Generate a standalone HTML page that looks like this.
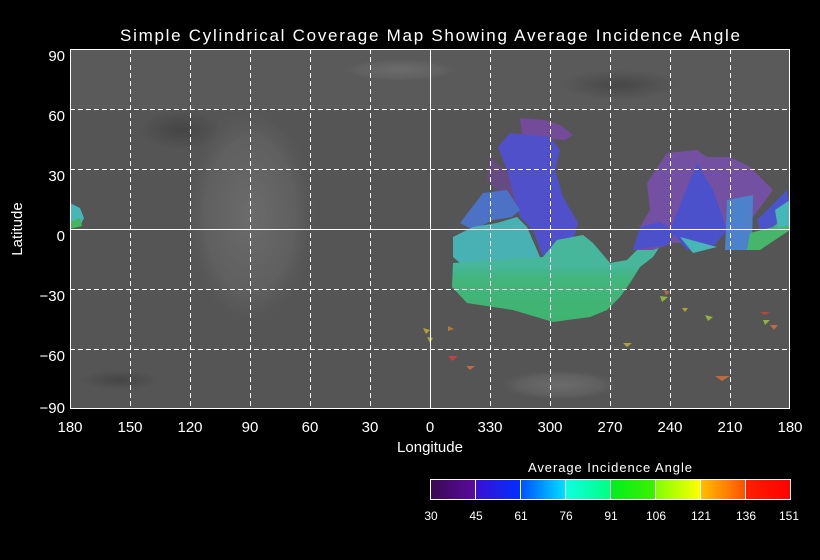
<!DOCTYPE html>
<html><head><meta charset="utf-8"><style>
html,body{margin:0;padding:0;background:#000;}
svg{display:block;}
text{font-family:"Liberation Sans",sans-serif;fill:#fff;}
</style></head><body>
<svg width="820" height="560" viewBox="0 0 820 560" xmlns="http://www.w3.org/2000/svg">
<defs>
<radialGradient id="lb" cx="0.5" cy="0.5" r="0.5"><stop offset="0" stop-color="#6c6c6c"/><stop offset="0.7" stop-color="#646464" stop-opacity="0.7"/><stop offset="1" stop-color="#5a5a5a" stop-opacity="0"/></radialGradient>
<radialGradient id="dk" cx="0.5" cy="0.5" r="0.5"><stop offset="0" stop-color="#3a3a3a" stop-opacity="0.6"/><stop offset="1" stop-color="#3a3a3a" stop-opacity="0"/></radialGradient>
<linearGradient id="gt" x1="0" y1="0" x2="0" y2="1"><stop offset="0" stop-color="#45c9a8"/><stop offset="0.35" stop-color="#45c9a8"/><stop offset="0.5" stop-color="#3fc783"/><stop offset="1" stop-color="#3dc474"/></linearGradient>
<linearGradient id="cb" x1="0" y1="0" x2="1" y2="0">
<stop offset="0" stop-color="#3a0a50"/><stop offset="0.125" stop-color="#5a0aa0"/><stop offset="0.125" stop-color="#3a10d0"/><stop offset="0.25" stop-color="#0030ff"/><stop offset="0.25" stop-color="#0050ff"/><stop offset="0.375" stop-color="#00e0ff"/><stop offset="0.375" stop-color="#10ffe0"/><stop offset="0.5" stop-color="#00ff80"/><stop offset="0.5" stop-color="#00ee20"/><stop offset="0.625" stop-color="#40f000"/><stop offset="0.625" stop-color="#80ff00"/><stop offset="0.75" stop-color="#ffff00"/><stop offset="0.75" stop-color="#ffc000"/><stop offset="0.875" stop-color="#ff5000"/><stop offset="0.875" stop-color="#ff2000"/><stop offset="1" stop-color="#ff0000"/></linearGradient>
</defs>
<rect x="70" y="49" width="720" height="360" fill="#555"/>
<rect x="70" y="49" width="720" height="60" fill="#5a5a5a"/>
<ellipse cx="250" cy="215" rx="65" ry="110" fill="url(#lb)"/>
<ellipse cx="400" cy="70" rx="60" ry="12" fill="url(#lb)"/>
<ellipse cx="620" cy="85" rx="60" ry="15" fill="url(#dk)"/>
<ellipse cx="180" cy="130" rx="40" ry="20" fill="url(#dk)"/>
<ellipse cx="560" cy="385" rx="60" ry="15" fill="url(#lb)"/>
<ellipse cx="120" cy="380" rx="40" ry="10" fill="url(#dk)"/>
<g opacity="0.85">
<polygon points="520,118 545,120 560,125 573,135 565,140 540,138 522,134" fill="#7a4aa8"/>
<polygon points="490,157 508,173 520,203 510,203 487,180" fill="#6a4a8a"/>
<polygon points="498,147 510,133 550,137 560,150 555,170 563,197 578,223 573,240 553,247 543,257 533,230 520,217 513,193 508,173" fill="#5050e0"/>
<polygon points="460,223 483,193 507,190 520,210 512,217 493,220 473,230" fill="#4a78d8"/>
<polygon points="453,237 473,227 497,223 517,217 527,227 540,257 520,263 460,263 453,257" fill="#45c2c4"/>
<polygon points="453,263 543,257 557,240 583,235 593,243 610,263 627,260 640,247 662,243 653,257 640,267 630,283 620,297 607,310 590,317 553,322 513,310 467,303 452,287" fill="url(#gt)"/>
<polygon points="647,183 667,153 697,150 707,157 730,157 750,167 773,190 753,217 740,210 727,230 707,243 673,243 653,250 633,250 640,227 650,210" fill="#7a50b0"/>
<polygon points="670,230 697,163 713,190 727,230 713,247 687,250" fill="#4a50e0"/>
<polygon points="633,250 640,227 660,222 675,232 668,245" fill="#4a50e0"/>
<polygon points="727,200 753,195 752,250 725,250" fill="#4a8ae0"/>
<polygon points="757,220 787,190 790,207 773,230 760,230" fill="#4a55e0"/>
<polygon points="680,237 717,247 693,253" fill="#45c8c8"/>
<polygon points="750,233 773,227 790,212 790,230 760,250 747,250" fill="#44c870"/>
<polygon points="775,210 790,200 790,225 778,228" fill="#45c8c8"/>
<polygon points="70,203 80,208 84,218 80,226 70,229" fill="#45c8c8"/>
<polygon points="70,222 80,218 82,226 70,229" fill="#40c860"/>
<polygon points="448,326 454,329 448,331" fill="#c08030"/>
<polygon points="423,328 430,330 426,334" fill="#c0b030"/>
<polygon points="427,337 433,338 430,343" fill="#c0b030"/>
<polygon points="448,356 458,356 452,361" fill="#d04040"/>
<polygon points="466,366 475,366 470,370" fill="#d07040"/>
<polygon points="623,343 632,343 627,347" fill="#c0b030"/>
<polygon points="705,315 713,317 708,321" fill="#a0c040"/>
<polygon points="715,376 730,376 722,381" fill="#d07040"/>
<polygon points="760,312 770,312 765,315" fill="#d04040"/>
<polygon points="770,325 778,325 774,330" fill="#d07040"/>
<polygon points="763,320 770,320 765,325" fill="#a0c040"/>
<polygon points="660,296 668,297 662,302" fill="#a0c040"/>
<polygon points="664,290 670,292 666,295" fill="#d07040"/>
<polygon points="682,308 688,308 685,312" fill="#c0b030"/>
</g>
<g stroke="#fff" stroke-width="1" stroke-dasharray="5,3">
<line x1="130.5" y1="49" x2="130.5" y2="409"/><line x1="190.5" y1="49" x2="190.5" y2="409"/><line x1="250.5" y1="49" x2="250.5" y2="409"/><line x1="310.5" y1="49" x2="310.5" y2="409"/><line x1="370.5" y1="49" x2="370.5" y2="409"/>
<line x1="490.5" y1="49" x2="490.5" y2="409"/><line x1="550.5" y1="49" x2="550.5" y2="409"/><line x1="610.5" y1="49" x2="610.5" y2="409"/><line x1="670.5" y1="49" x2="670.5" y2="409"/><line x1="730.5" y1="49" x2="730.5" y2="409"/>
<line x1="70" y1="109.5" x2="790" y2="109.5"/><line x1="70" y1="169.5" x2="790" y2="169.5"/><line x1="70" y1="289.5" x2="790" y2="289.5"/><line x1="70" y1="349.5" x2="790" y2="349.5"/>
</g>
<line x1="430.5" y1="49" x2="430.5" y2="409" stroke="#fff"/>
<line x1="70" y1="229.5" x2="790" y2="229.5" stroke="#fff"/>
<rect x="70.5" y="49.5" width="719" height="359" fill="none" stroke="#fff"/>
<text x="120" y="41" font-size="17" textLength="620" lengthAdjust="spacing">Simple Cylindrical Coverage Map Showing Average Incidence Angle</text>
<g font-size="15" text-anchor="end">
<text x="65" y="61">90</text><text x="65" y="121">60</text><text x="65" y="181">30</text><text x="65" y="241">0</text><text x="65" y="301">−30</text><text x="65" y="361">−60</text><text x="65" y="413">−90</text>
</g>
<g font-size="15" text-anchor="middle">
<text x="70" y="432">180</text><text x="130" y="432">150</text><text x="190" y="432">120</text><text x="250" y="432">90</text><text x="310" y="432">60</text><text x="370" y="432">30</text><text x="430" y="432">0</text><text x="490" y="432">330</text><text x="550" y="432">300</text><text x="610" y="432">270</text><text x="670" y="432">240</text><text x="730" y="432">210</text><text x="790" y="432">180</text>
</g>
<text x="430" y="452" font-size="15" text-anchor="middle">Longitude</text>
<text x="22" y="229" font-size="15" text-anchor="middle" transform="rotate(-90 22 229)">Latitude</text>
<text x="528" y="472" font-size="13" textLength="164" lengthAdjust="spacing">Average Incidence Angle</text>
<rect x="430.5" y="479.5" width="360" height="20" fill="url(#cb)" stroke="#fff"/>
<g stroke="#fff"><line x1="475.5" y1="480" x2="475.5" y2="499"/><line x1="520.5" y1="480" x2="520.5" y2="499"/><line x1="565.5" y1="480" x2="565.5" y2="499"/><line x1="610.5" y1="480" x2="610.5" y2="499"/><line x1="655.5" y1="480" x2="655.5" y2="499"/><line x1="700.5" y1="480" x2="700.5" y2="499"/><line x1="745.5" y1="480" x2="745.5" y2="499"/></g>
<g font-size="12" text-anchor="middle">
<text x="431" y="520">30</text><text x="476" y="520">45</text><text x="521" y="520">61</text><text x="566" y="520">76</text><text x="611" y="520">91</text><text x="656" y="520">106</text><text x="701" y="520">121</text><text x="746" y="520">136</text><text x="789" y="520">151</text>
</g>
</svg>
</body></html>
